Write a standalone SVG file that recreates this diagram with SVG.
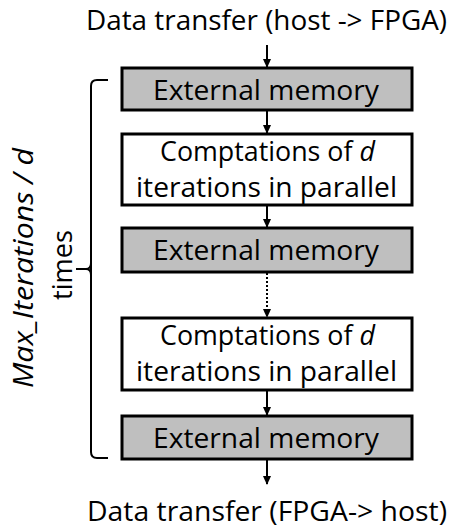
<svg xmlns="http://www.w3.org/2000/svg" width="449" height="529" viewBox="0 0 449 529">
<style>
text{font-family:"Open Sans","Noto Sans","Liberation Sans",sans-serif;font-size:27px;fill:#000}
.box{stroke:#000;stroke-width:3}
.mem{fill:#bfbfbf}
.comp{fill:#fff}
.conn{stroke:#000;stroke-width:2;fill:none}
.it{font-style:italic}
</style>
<defs>
<marker id="ah" markerWidth="10" markerHeight="10" refX="8" refY="5" orient="auto" markerUnits="userSpaceOnUse">
<path d="M0,1 L9,5 L0,9 Z" fill="#000"/>
</marker>
</defs>
<rect width="449" height="529" fill="#fff"/>
<g id="label-top"><text x="86" y="30" textLength="361" lengthAdjust="spacingAndGlyphs">Data transfer (host -&gt; FPGA)</text></g>
<g id="mem1"><rect class="box mem" x="122" y="68" width="290" height="42"/><text x="153" y="100" textLength="226" lengthAdjust="spacingAndGlyphs">External memory</text></g>
<g id="comp1"><rect class="box comp" x="122" y="134" width="290" height="71"/><text x="160" y="161" textLength="215" lengthAdjust="spacingAndGlyphs">Comptations of <tspan class="it">d</tspan></text><text x="136" y="197" textLength="261" lengthAdjust="spacingAndGlyphs">iterations in parallel</text></g>
<g id="mem2"><rect class="box mem" x="122" y="228" width="290" height="44"/><text x="153" y="260" textLength="226" lengthAdjust="spacingAndGlyphs">External memory</text></g>
<g id="comp2"><rect class="box comp" x="122" y="318" width="290" height="72"/><text x="160" y="345" textLength="215" lengthAdjust="spacingAndGlyphs">Comptations of <tspan class="it">d</tspan></text><text x="136" y="381" textLength="261" lengthAdjust="spacingAndGlyphs">iterations in parallel</text></g>
<g id="mem3"><rect class="box mem" x="122" y="416" width="290" height="43"/><text x="153" y="448" textLength="226" lengthAdjust="spacingAndGlyphs">External memory</text></g>
<g id="label-bottom"><text x="87" y="521" textLength="360" lengthAdjust="spacingAndGlyphs">Data transfer (FPGA-&gt; host)</text></g>
<g id="bracket">
<path class="conn" stroke-width="2.5" d="M108,80 H97 Q91,80 91,86 V452 Q91,458 97,458 H108"/>
<path class="conn" stroke-width="2.5" d="M76,269 H86 Q91,269 91,263 M86,269 Q91,269 91,275"/>
<text class="it" transform="translate(33,268) rotate(-90)" x="-120" y="0" textLength="240" lengthAdjust="spacingAndGlyphs">Max_Iterations / d</text>
<text transform="translate(72,265) rotate(-90)" x="-35" y="0" textLength="70" lengthAdjust="spacingAndGlyphs">times</text>
</g>
<g id="connectors">
<line class="conn" x1="267" y1="45" x2="267" y2="67" marker-end="url(#ah)"/>
<line class="conn" x1="267" y1="111" x2="267" y2="133" marker-end="url(#ah)"/>
<line class="conn" x1="267" y1="206" x2="267" y2="227" marker-end="url(#ah)"/>
<line class="conn" x1="267" y1="273" x2="267" y2="317" stroke-dasharray="2,2" marker-end="url(#ah)"/>
<line class="conn" x1="267" y1="391" x2="267" y2="415" marker-end="url(#ah)"/>
<line class="conn" x1="267" y1="460" x2="267" y2="484" marker-end="url(#ah)"/>
</g>
</svg>
